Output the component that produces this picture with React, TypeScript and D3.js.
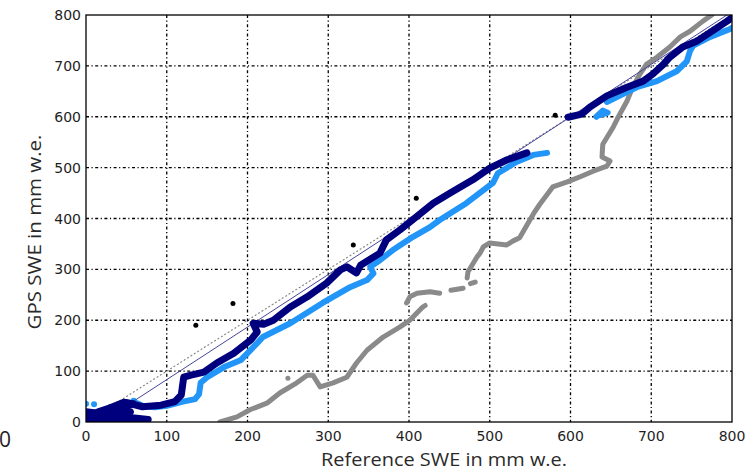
import React from 'react';
import * as d3 from 'd3';

// tick values on both axes
const xTicks = [0, 100, 200, 300, 400, 500, 600, 700, 800];
const yTicks = [0, 100, 200, 300, 400, 500, 600, 700, 800];

// dark blue GPS series (reference vs GPS SWE)
const navyCluster: [number, number][] = [
  [0, 3], [25, 3], [50, 4], [77, 5], [60, 8], [40, 9], [20, 11], [0, 13], [0, 20],
  [10, 18], [25, 22], [40, 30], [50, 38], [58, 36], [45, 28], [30, 25], [15, 20], [30, 28],
  [20, 8], [45, 15], [55, 20], [35, 16],
];
const navyLower: [number, number][] = [
  [30, 28], [47, 39], [70, 30], [93, 33], [110, 40], [118, 53], [121, 88], [130, 92],
  [146, 98], [162, 116], [183, 135], [204, 161], [212, 177], [207, 194], [220, 192],
  [232, 200], [253, 226], [274, 246], [298, 273], [315, 299], [323, 305], [335, 293],
  [340, 308], [364, 332], [372, 358], [389, 378], [405, 398], [430, 430], [451, 450],
  [479, 476], [500, 499], [521, 515], [546, 529],
];
const navyUpper: [number, number][] = [
  [597, 599], [614, 605], [624, 619], [645, 641], [670, 658], [690, 670], [702, 684],
  [715, 703], [723, 717], [739, 737], [757, 749], [773, 766], [794, 788], [800, 795],
];

// light blue series
const lightDots: [number, number][] = [[0, 36], [10, 35], [59, 42], [72, 4]];
const lightLower: [number, number][] = [
  [20, 15], [35, 23], [50, 30], [59, 40], [70, 32], [85, 29], [100, 32], [120, 40],
  [135, 45], [140, 55], [142, 77], [150, 88], [171, 108], [192, 122], [212, 155],
  [219, 167], [253, 194], [293, 234], [327, 265], [348, 279], [356, 292], [352, 305],
  [364, 318], [380, 338], [405, 364], [426, 383], [438, 397], [471, 430], [504, 470],
  [510, 489], [533, 511], [554, 525], [571, 529],
];
const lightBlob: [number, number][] = [[632, 600], [640, 612], [646, 608], [636, 603]];
const lightUpper: [number, number][] = [
  [645, 629], [658, 639], [682, 658], [707, 670], [732, 690], [744, 709], [748, 729],
  [752, 740], [773, 757], [797, 772], [800, 775],
];

// grey series, broken into pieces where the plot shows gaps
const graySegments: [number, number][][] = [
  [[166, 0], [187, 10], [203, 24], [224, 37], [240, 57], [261, 77], [274, 92], [281, 92],
   [290, 69], [306, 77], [323, 88], [335, 116], [348, 141], [368, 167], [389, 187],
   [401, 200], [417, 226], [420, 229]],
  [[397, 234], [401, 246], [410, 253], [426, 256], [438, 253]],
  [[452, 259], [467, 263]],
  [[476, 272], [482, 275]],
  [[472, 283], [473, 295], [484, 324], [488, 332], [492, 344], [500, 352], [521, 348],
   [529, 356], [537, 362], [554, 409], [562, 428], [578, 462], [596, 472], [612, 482],
   [628, 493], [645, 503], [649, 513], [639, 521], [640, 546], [653, 580], [661, 605],
   [670, 631], [677, 658], [686, 684], [694, 703], [707, 717], [723, 737], [736, 757],
   [748, 768], [764, 788], [775, 800]],
];
const grayDots: [number, number][] = [[250, 86]];

// black single points
const blackDots: [number, number][] = [[136, 190], [182, 233], [331, 348], [409, 440], [581, 603]];

// fitted line
const fitStart = 58;
const fitSlope = 1.033;
const fitIntercept = -20;

const W = 746;
const H = 473;
const left = 86, right = 732, top = 15, bottom = 422;

export default function App() {
  const x = d3.scaleLinear().domain([0, 800]).range([left, right]);
  const y = d3.scaleLinear().domain([0, 800]).range([bottom, top]);
  const line = d3.line<[number, number]>().x(d => x(d[0])).y(d => y(d[1])).curve(d3.curveLinear);

  const fitPts: [number, number][] = [[fitStart, fitSlope * fitStart + fitIntercept], [800, fitSlope * 800 + fitIntercept]];

  const tickFont = { fontFamily: 'DejaVu Sans', fontSize: 14, fill: '#1e1e1e' };
  const grid = { stroke: '#000', strokeWidth: 1.3, strokeDasharray: '3,2.5,1.2,2.5' };

  return (
    <svg width={W} height={H} style={{ position: 'absolute', left: 0, top: 0 }}>
      <defs>
        <clipPath id="plot">
          <rect x={left} y={top} width={right - left} height={bottom - top} />
        </clipPath>
      </defs>
      <rect width={W} height={H} fill="#fff" />

      {xTicks.slice(1, -1).map(t => (
        <line key={'gx' + t} x1={x(t)} x2={x(t)} y1={top} y2={bottom} {...grid} />
      ))}
      {yTicks.slice(1, -1).map(t => (
        <line key={'gy' + t} y1={y(t)} y2={y(t)} x1={left} x2={right} {...grid} />
      ))}

      <g clipPath="url(#plot)" strokeLinecap="round" strokeLinejoin="round" fill="none">
        <path d={line([[0, 0], [800, 800]]) || ''} stroke="#888" strokeWidth={1.2} strokeDasharray="1,3" />
        {graySegments.map((s, i) => (
          <path key={'g' + i} d={line(s) || ''} stroke="#8a8a8a" strokeWidth={5} />
        ))}
        {grayDots.map((d, i) => (
          <circle key={'gd' + i} cx={x(d[0])} cy={y(d[1])} r={2.5} fill="#8a8a8a" stroke="none" />
        ))}
        <path d={line(lightLower) || ''} stroke="#2196f8" strokeWidth={6} />
        <path d={line(lightBlob) || ''} stroke="#2196f8" strokeWidth={6} />
        <path d={line(lightUpper) || ''} stroke="#2196f8" strokeWidth={6} />
        {lightDots.map((d, i) => (
          <circle key={'ld' + i} cx={x(d[0])} cy={y(d[1])} r={3} fill="#2196f8" stroke="none" />
        ))}
        <path d={line(fitPts) || ''} stroke="#45459a" strokeWidth={1} />
        <path d={line(navyCluster) || ''} stroke="#00007f" strokeWidth={7} />
        <path d={line(navyLower) || ''} stroke="#00007f" strokeWidth={7} />
        <path d={line(navyUpper) || ''} stroke="#00007f" strokeWidth={7} />
        {blackDots.map((d, i) => (
          <circle key={'bd' + i} cx={x(d[0])} cy={y(d[1])} r={2.5} fill="#000" stroke="none" />
        ))}
      </g>

      <rect x={left} y={top} width={right - left} height={bottom - top} fill="none" stroke="#000" strokeWidth={1.3} />

      {xTicks.map(t => (
        <text key={'xt' + t} x={x(t)} y={bottom + 19} textAnchor="middle" {...tickFont}>{t}</text>
      ))}
      {yTicks.map(t => (
        <text key={'yt' + t} x={left - 5} y={y(t) + 5} textAnchor="end" {...tickFont}>{t}</text>
      ))}

      <text x={-1} y={447} fontFamily="Open Sans" fontSize={21} fill="#222">0</text>

      <text x={444} y={466} textAnchor="middle" fontFamily="Open Sans" fontSize={19} fill="#2a2a2a"
        textLength={246} lengthAdjust="spacingAndGlyphs">Reference SWE in mm w.e.</text>
      <text transform="translate(41,232) rotate(-90)" textAnchor="middle" fontFamily="Open Sans" fontSize={19}
        fill="#2a2a2a" textLength={195} lengthAdjust="spacingAndGlyphs">GPS SWE in mm w.e.</text>
    </svg>
  );
}
